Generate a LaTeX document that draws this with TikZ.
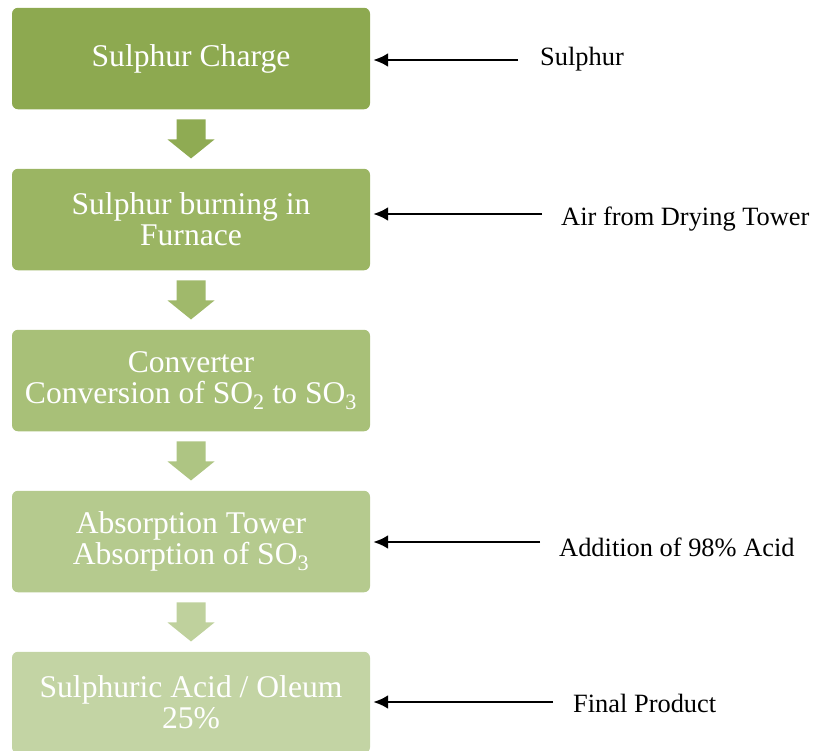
\documentclass[tikz,border=0pt]{standalone}
\usepackage{fontspec}
\setmainfont{Liberation Serif}
\usetikzlibrary{arrows.meta}

\definecolor{vertA}{RGB}{141,169,80}
\definecolor{vertB}{RGB}{155,181,99}
\definecolor{vertC}{RGB}{168,192,120}
\definecolor{vertD}{RGB}{181,202,142}
\definecolor{vertE}{RGB}{195,212,164}

\newcommand{\flowarrow}[2]{\fill[#2] ([shift={(-14.5,10)}]#1.south) -- ++(29,0) -- ++(0,20)
-- ++(9,0) -- ++(-23.5,19) -- ++(-23.5,-19) -- ++(9,0) -- cycle;}
\tikzset { stage/.style={rounded corners=6pt, minimum width=358pt, minimum height=101.5pt,
  inner sep=0pt, align=center, text=white, font=\fontsize{31.6}{31}\selectfont},
  feed/.style={anchor=base west, inner sep=0pt, font=\fontsize{26.4}{30}\selectfont},
  inlet/.style={line width=2.6pt, -{Latex[length=15pt,width=14pt]}} }

\begin{document}
\begin{tikzpicture}[x=1pt, y=-1pt]
  \useasboundingbox (0,0) rectangle (818,750);
	% the process steps
	\node[stage, fill=vertA] (charge) at (191,58.5) {Sulphur Charge};
	\node[stage, fill=vertB] (furnace) at (191,219.5) {Sulphur burning in\\Furnace};
	\node[stage, fill=vertC] (converter) at (191,380.5) {Converter\\Conversion of SO\textsubscript{2} to SO\textsubscript{3}};
	\node[stage, fill=vertD] (tower) at (191,541.5) {Absorption Tower\\Absorption of SO\textsubscript{3}};
	\node[stage, fill=vertE] (product) at (191,702.5) {Sulphuric Acid / Oleum\\25\%};
	\flowarrow{charge}{vertA!85!vertB};
	\flowarrow{furnace}{vertB!60!vertC};
	\flowarrow{converter}{vertC!50!vertD};
	\flowarrow{tower}{vertD!30!vertE};
	% inputs and output
	\node[feed] (lsulphur) at (540,65) {Sulphur};
	\node[feed] (lair) at (561,225) {Air from Drying Tower};
	\node[feed] (lacid) at (559,556) {Addition of 98\% Acid};
	\node[feed] (lfinal) at (573,712) {Final Product};
	\coordinate (s1) at (518,60);
	\coordinate (s2) at (542,214);
	\coordinate (s4) at (540,542);
	\coordinate (s5) at (553,702);
	\draw[inlet] (s1) -- ([xshift=3pt]charge.east |- s1);
	\draw[inlet] (s2) -- ([xshift=3pt]furnace.east |- s2);
	\draw[inlet] (s4) -- ([xshift=3pt]tower.east |- s4);
	\draw[inlet] (s5) -- ([xshift=3pt]product.east |- s5);
\end{tikzpicture}
\end{document}
